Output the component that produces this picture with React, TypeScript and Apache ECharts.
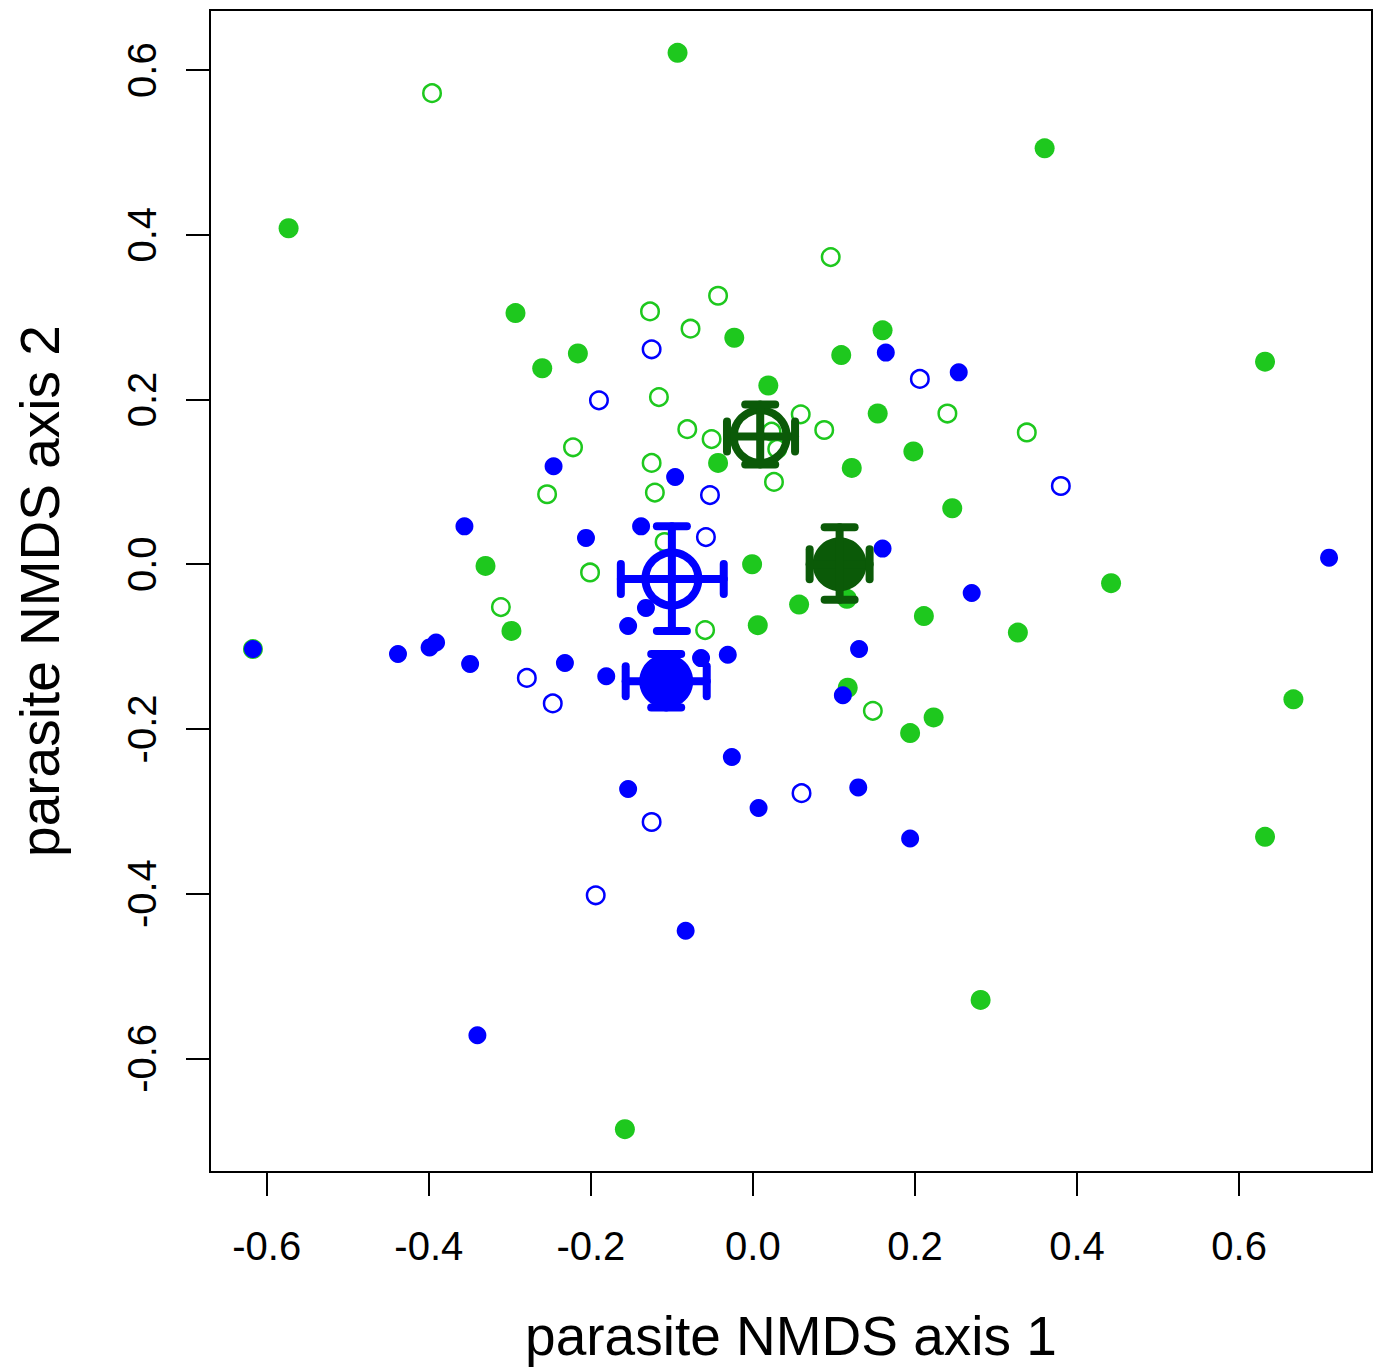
import React, { useEffect, useRef } from "react";
import * as echarts from "echarts";

// Tick values shared by both axes
const xTicks = [-0.6, -0.4, -0.2, 0.0, 0.2, 0.4, 0.6];
const yTicks = [-0.6, -0.4, -0.2, 0.0, 0.2, 0.4, 0.6];

// Green, filled points [axis1, axis2]
const greenFilled: number[][] = [
  [-0.093, 0.621], [0.360, 0.505], [-0.573, 0.408], [-0.293, 0.305], [-0.216, 0.256],
  [-0.260, 0.238], [-0.023, 0.275], [0.160, 0.284], [0.109, 0.254], [0.019, 0.217],
  [0.632, 0.246], [0.154, 0.183], [0.198, 0.137], [0.122, 0.117], [-0.043, 0.123],
  [0.246, 0.068], [-0.330, -0.002], [-0.001, 0.000], [-0.298, -0.081], [0.057, -0.049],
  [0.006, -0.074], [0.116, -0.042], [0.211, -0.063], [0.442, -0.023], [0.327, -0.083],
  [0.117, -0.150], [0.223, -0.186], [0.194, -0.205], [0.667, -0.164], [0.632, -0.331],
  [0.281, -0.529], [-0.158, -0.686], [-0.617, -0.103],
];

// Green, open points
const greenOpen: number[][] = [
  [-0.396, 0.572], [0.096, 0.373], [-0.043, 0.326], [-0.127, 0.307], [-0.077, 0.286],
  [-0.116, 0.203], [-0.222, 0.142], [-0.081, 0.164], [-0.051, 0.152], [-0.125, 0.123],
  [-0.121, 0.087], [-0.254, 0.085], [0.059, 0.182], [0.088, 0.163], [0.026, 0.100],
  [0.240, 0.183], [0.338, 0.160], [-0.201, -0.010], [-0.311, -0.052], [-0.059, -0.080],
  [0.148, -0.178], [-0.109, 0.027], [0.023, 0.161], [0.030, 0.140],
];

// Blue, filled points
const blueFilled: number[][] = [
  [0.164, 0.257], [0.254, 0.233], [-0.246, 0.119], [-0.096, 0.106], [-0.356, 0.046],
  [-0.138, 0.046], [-0.206, 0.032], [0.160, 0.019], [0.711, 0.008], [0.270, -0.035],
  [-0.132, -0.053], [-0.154, -0.075], [-0.617, -0.103], [-0.438, -0.109], [-0.399, -0.101],
  [-0.391, -0.095], [-0.349, -0.121], [-0.232, -0.120], [-0.181, -0.136], [-0.064, -0.114],
  [-0.031, -0.110], [0.131, -0.103], [0.111, -0.159], [-0.026, -0.234], [-0.154, -0.273],
  [0.007, -0.296], [0.130, -0.271], [0.194, -0.333], [-0.083, -0.445], [-0.340, -0.572],
];

// Blue, open points
const blueOpen: number[][] = [
  [-0.125, 0.261], [-0.190, 0.199], [0.206, 0.225], [-0.053, 0.084], [-0.058, 0.033],
  [0.380, 0.095], [-0.279, -0.138], [-0.247, -0.169], [0.060, -0.278], [-0.125, -0.313],
  [-0.194, -0.402],
];

// Group centroids: [x, y, xLow, xHigh, yLow, yHigh]
const blueOpenCentroid = [[-0.100, -0.018, -0.163, -0.036, -0.081, 0.046]];
const blueFilledCentroid = [[-0.107, -0.142, -0.157, -0.057, -0.174, -0.109]];
const greenOpenCentroid = [[0.009, 0.155, -0.032, 0.052, 0.121, 0.194]];
const greenFilledCentroid = [[0.107, 0.000, 0.070, 0.144, -0.043, 0.045]];

const GREEN = "#1ec81e";
const DARKGREEN = "#0b5a08";
const BLUE = "#0000ff";
const FONT = "Liberation Sans, Arial, Helvetica, sans-serif";

function errorBars(data: number[][], color: string) {
  return {
    type: "custom",
    data,
    z: 10,
    silent: true,
    renderItem: (_p: any, api: any) => {
      const x = api.value(0), y = api.value(1);
      const xl = api.coord([api.value(2), y]);
      const xh = api.coord([api.value(3), y]);
      const yl = api.coord([x, api.value(4)]);
      const yh = api.coord([x, api.value(5)]);
      const cap = 15;
      const style = { stroke: color, lineWidth: 8, lineCap: "round", opacity: 1 };
      const ln = (x1: number, y1: number, x2: number, y2: number) => ({
        type: "line",
        shape: { x1, y1, x2, y2 },
        style,
      });
      return {
        type: "group",
        children: [
          ln(xl[0], xl[1], xh[0], xh[1]),
          ln(yl[0], yl[1], yh[0], yh[1]),
          ln(xl[0], xl[1] - cap, xl[0], xl[1] + cap),
          ln(xh[0], xh[1] - cap, xh[0], xh[1] + cap),
          ln(yl[0] - cap, yl[1], yl[0] + cap, yl[1]),
          ln(yh[0] - cap, yh[1], yh[0] + cap, yh[1]),
        ],
      };
    },
  };
}

function centroidCircle(data: number[][], color: string, open: boolean) {
  return {
    type: "scatter",
    data: data.map((d) => [d[0], d[1]]),
    z: 9,
    symbol: "circle",
    symbolSize: open ? 53 : 54,
    itemStyle: open
      ? { color: "rgba(0,0,0,0)", borderColor: color, borderWidth: 8, opacity: 1 }
      : { color, borderWidth: 0, opacity: 1 },
    silent: true,
  };
}

export default function App() {
  const ref = useRef<HTMLDivElement>(null);
  useEffect(() => {
    document.body.style.margin = "0";
    const chart = echarts.init(ref.current!, null, { renderer: "svg" });
    const fmt = (v: number) => (Math.abs(v) < 1e-9 ? "0.0" : v.toFixed(1));
    chart.setOption({
      animation: false,
      backgroundColor: "#ffffff",
      grid: {
        left: 210,
        top: 10,
        width: 1162,
        height: 1163,
        show: true,
        borderColor: "#000",
        borderWidth: 2,
        backgroundColor: "transparent",
      },
      xAxis: {
        type: "value",
        min: -0.670,
        max: 0.764,
        position: "bottom",
        name: "parasite NMDS axis 1",
        nameLocation: "middle",
        nameGap: 136,
        nameTextStyle: { fontSize: 55, color: "#000", fontFamily: FONT },
        axisLine: { show: false, onZero: false },
        splitLine: { show: false },
        axisTick: {
          show: true,
          length: 24,
          customValues: xTicks,
          lineStyle: { color: "#000", width: 2 },
        },
        axisLabel: {
          customValues: xTicks,
          formatter: fmt,
          margin: 54,
          fontSize: 40,
          color: "#000",
          fontFamily: FONT,
        },
      },
      yAxis: {
        type: "value",
        min: -0.738,
        max: 0.673,
        position: "left",
        name: "parasite NMDS axis 2",
        nameLocation: "middle",
        nameGap: 143,
        nameTextStyle: { fontSize: 55, color: "#000", fontFamily: FONT },
        axisLine: { show: false, onZero: false },
        splitLine: { show: false },
        axisTick: {
          show: true,
          length: 24,
          customValues: yTicks,
          lineStyle: { color: "#000", width: 2 },
        },
        axisLabel: {
          customValues: yTicks,
          formatter: fmt,
          rotate: 90,
          margin: 48,
          fontSize: 40,
          color: "#000",
          fontFamily: FONT,
        },
      },
      series: [
        {
          type: "scatter",
          data: greenFilled,
          symbolSize: 20,
          itemStyle: { color: GREEN, opacity: 1 },
          silent: true,
        },
        {
          type: "scatter",
          data: greenOpen,
          symbolSize: 17.5,
          itemStyle: { color: "rgba(0,0,0,0)", borderColor: GREEN, borderWidth: 2.5, opacity: 1 },
          silent: true,
        },
        {
          type: "scatter",
          data: blueFilled,
          symbolSize: 18,
          itemStyle: { color: BLUE, opacity: 1 },
          silent: true,
        },
        {
          type: "scatter",
          data: blueOpen,
          symbolSize: 17.5,
          itemStyle: { color: "rgba(0,0,0,0)", borderColor: BLUE, borderWidth: 2.5, opacity: 1 },
          silent: true,
        },
        centroidCircle(greenOpenCentroid, DARKGREEN, true),
        errorBars(greenOpenCentroid, DARKGREEN),
        centroidCircle(greenFilledCentroid, DARKGREEN, false),
        errorBars(greenFilledCentroid, DARKGREEN),
        centroidCircle(blueOpenCentroid, BLUE, true),
        errorBars(blueOpenCentroid, BLUE),
        centroidCircle(blueFilledCentroid, BLUE, false),
        errorBars(blueFilledCentroid, BLUE),
      ],
    });
    return () => chart.dispose();
  }, []);
  return <div ref={ref} style={{ width: 1379, height: 1368 }} />;
}
